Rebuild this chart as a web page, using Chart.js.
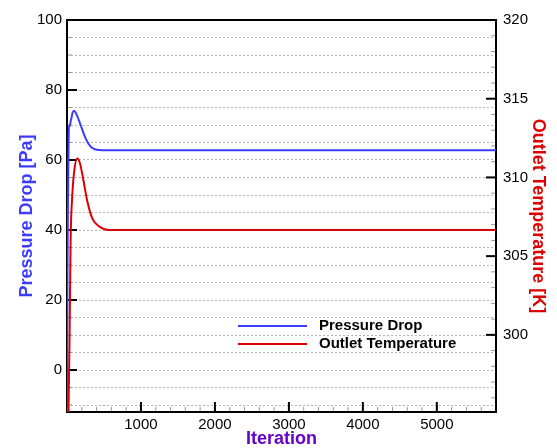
<!DOCTYPE html>
<html lang="en">
<head>
<meta charset="UTF-8">
<title>Pressure Drop and Outlet Temperature</title>
<script src="https://cdn.jsdelivr.net/npm/chart.js"></script>
<style>
  html, body { margin: 0; padding: 0; background: #fff; }
  #wrap { width: 557px; height: 448px; }
</style>
</head>
<body>
<div id="wrap"><canvas id="convChart" width="557" height="448"></canvas></div>
<script>
// pressure drop history (iteration -> Pa)
const pdIter = [0, 5, 10, 18, 27, 38, 49, 60, 75, 95, 120, 150, 184, 252, 319, 387, 477, 600, 5800];
const pdVals = [-12, 20, 40, 58, 69.5, 69.8, 71, 72, 73.5, 74.1, 73.4, 72, 70, 66.2, 63.8, 63, 62.8, 62.8, 62.8];

// outlet temperature history (iteration -> K)
const tIter = [0, 20, 35, 49, 72, 100, 139, 175, 207, 274, 342, 432, 568, 800, 5800];
const tVals = [294, 295.2, 300, 306, 308.9, 310.5, 311.2, 310.9, 310.2, 308.5, 307.4, 306.9, 306.66, 306.66, 306.66];

// labelled ticks
const xTicks = [1000, 2000, 3000, 4000, 5000];
const pdTicks = [0, 20, 40, 60, 80, 100];
const tTicks = [300, 305, 310, 315, 320];

const BLUE = '#3c3cff';
const RED = '#dd0000';
const FONT = 'Liberation Sans, Arial, sans-serif';

function range(from, to, step) {
    const out = [];
    for (let v = from; v <= to + 1e-9; v += step) out.push(Math.round(v * 100) / 100);
    return out;
}

// frame + inward tick marks like the original plot
const axisFrame = {
    id: 'axisFrame',
    beforeDatasetsDraw(chart) {
        const { ctx, chartArea: a, scales } = chart;
        ctx.save();
        const line = (x1, y1, x2, y2, w, c) => {
            ctx.beginPath();
            ctx.lineWidth = w;
            ctx.strokeStyle = c;
            ctx.moveTo(x1, y1);
            ctx.lineTo(x2, y2);
            ctx.stroke();
        };
        // left axis
        range(-10, 95, 5).forEach(v => {
            const y = scales.y.getPixelForValue(v);
            if (v % 20 === 0) line(a.left, y, a.left + 10, y, 2, '#000');
            else line(a.left, y, a.left + 5, y, 1, '#999');
        });
        // right axis
        range(296, 319, 1).forEach(v => {
            const y = scales.y2.getPixelForValue(v);
            if (v % 5 === 0) line(a.right, y, a.right - 10, y, 2, '#000');
            else line(a.right, y, a.right - 5, y, 1, '#999');
        });
        // bottom axis
        range(200, 5600, 200).forEach(v => {
            const x = scales.x.getPixelForValue(v);
            if (v % 1000 === 0) line(x, a.bottom, x, a.bottom - 10, 2, '#000');
            else line(x, a.bottom, x, a.bottom - 5, 1, '#999');
        });
        ctx.lineWidth = 2;
        ctx.strokeStyle = '#000';
        ctx.strokeRect(a.left, a.top, a.right - a.left, a.bottom - a.top);
        ctx.restore();
    },
    afterDraw(chart) {
        // legend inside the plot
        const { ctx } = chart;
        ctx.save();
        ctx.font = 'bold 15px ' + FONT;
        ctx.textBaseline = 'middle';
        ctx.fillStyle = '#000';
        chart.data.datasets.forEach((ds, i) => {
            const y = 326 + i * 18;
            ctx.beginPath();
            ctx.lineWidth = 2;
            ctx.strokeStyle = ds.borderColor;
            ctx.moveTo(238, y);
            ctx.lineTo(307, y);
            ctx.stroke();
            ctx.fillText(ds.label, 319, y);
        });
        ctx.restore();
    }
};

const ctx = document.getElementById('convChart').getContext('2d');
new Chart(ctx, {
    type: 'line',
    data: {
        datasets: [
            {
                label: 'Pressure Drop',
                data: pdIter.map((it, i) => ({ x: it, y: pdVals[i] })),
                borderColor: BLUE,
                borderWidth: 2,
                pointRadius: 0,
                cubicInterpolationMode: 'monotone',
                yAxisID: 'y'
            },
            {
                label: 'Outlet Temperature',
                data: tIter.map((it, i) => ({ x: it, y: tVals[i] })),
                borderColor: RED,
                borderWidth: 2,
                pointRadius: 0,
                cubicInterpolationMode: 'monotone',
                yAxisID: 'y2'
            }
        ]
    },
    options: {
        responsive: false,
        animation: false,
        events: [],
        layout: { padding: { top: 20, left: 0, right: 0, bottom: 0 } },
        plugins: { legend: { display: false }, tooltip: { enabled: false } },
        scales: {
            x: {
                type: 'linear',
                min: 0,
                max: 5800,
                afterBuildTicks: s => { s.ticks = xTicks.map(v => ({ value: v })); },
                afterFit: s => { s.height = 36; },
                grid: { display: false, drawTicks: false },
                border: { display: false },
                ticks: {
                    padding: 4,
                    maxRotation: 0,
                    autoSkip: false,
                    color: '#000',
                    font: { family: FONT, size: 15 },
                    callback: v => String(v)
                },
                title: {
                    display: true,
                    text: 'Iteration',
                    color: '#6600cc',
                    padding: 0,
                    font: { family: FONT, size: 18, weight: 'bold', lineHeight: 1 }
                }
            },
            y: {
                type: 'linear',
                position: 'left',
                min: -12,
                max: 100,
                afterBuildTicks: s => { s.ticks = range(-10, 100, 5).map(v => ({ value: v })); },
                afterFit: s => { s.width = 67; },
                grid: {
                    drawTicks: false,
                    color: '#b4b4b4',
                    lineWidth: 1
                },
                border: { display: false, dash: [2, 2] },
                ticks: {
                    padding: 5,
                    autoSkip: false,
                    color: '#000',
                    font: { family: FONT, size: 15 },
                    callback: v => pdTicks.includes(v) ? String(v) : ''
                },
                title: {
                    display: true,
                    text: 'Pressure Drop [Pa]',
                    color: BLUE,
                    padding: { top: 16 },
                    font: { family: FONT, size: 18, weight: 'bold' }
                }
            },
            y2: {
                type: 'linear',
                position: 'right',
                min: 295.1,
                max: 320,
                afterBuildTicks: s => { s.ticks = tTicks.map(v => ({ value: v })); },
                afterFit: s => { s.width = 61; },
                grid: { display: false, drawTicks: false },
                border: { display: false },
                ticks: {
                    padding: 7,
                    autoSkip: false,
                    color: '#000',
                    font: { family: FONT, size: 15 }
                },
                title: {
                    display: true,
                    text: 'Outlet Temperature [K]',
                    color: RED,
                    padding: { top: 8 },
                    font: { family: FONT, size: 18, weight: 'bold' }
                }
            }
        }
    },
    plugins: [axisFrame]
});
</script>
</body>
</html>
